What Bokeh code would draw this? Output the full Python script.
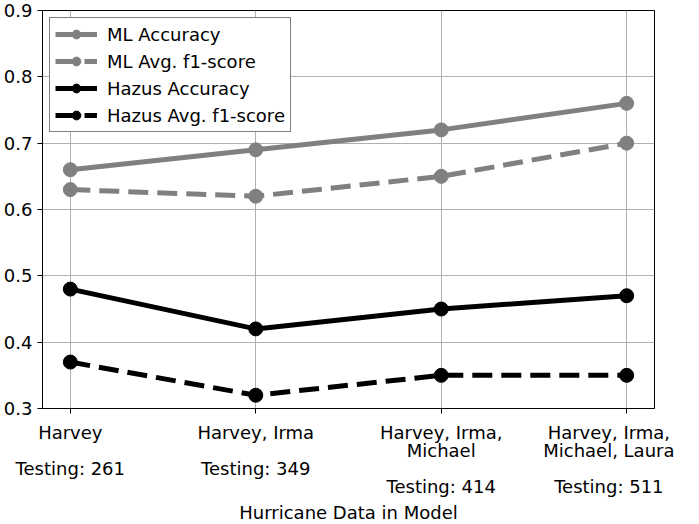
from bokeh.plotting import figure
from bokeh.models import FixedTicker, Range1d
from bokeh.embed import file_html
from bokeh.resources import INLINE

categories = ["Harvey\n\nTesting: 261",
              "Harvey, Irma\n\nTesting: 349",
              "Harvey, Irma,\nMichael\n\nTesting: 414",
              "Harvey, Irma,\nMichael, Laura\n\nTesting: 511"]
x_pos = [0, 1, 2, 3]
ml_accuracy = [0.66, 0.69, 0.72, 0.76]
ml_f1 = [0.63, 0.62, 0.65, 0.70]
hazus_accuracy = [0.48, 0.42, 0.45, 0.47]
hazus_f1 = [0.37, 0.32, 0.35, 0.35]
y_ticks = [0.3, 0.4, 0.5, 0.6, 0.7, 0.8, 0.9]

FONT = "DejaVu Sans"
GRAY = "#808080"

p = figure(frame_width=612, frame_height=398, output_backend="svg",
           toolbar_location=None, x_range=Range1d(-0.15, 3.15),
           y_range=Range1d(0.3, 0.9),
           min_border_left=40, min_border_top=10, min_border_right=20,
           min_border_bottom=3)

series = [
    (ml_accuracy, GRAY, "solid", "ML Accuracy"),
    (ml_f1, GRAY, "20 9", "ML Avg. f1-score"),
    (hazus_accuracy, "black", "solid", "Hazus Accuracy"),
    (hazus_f1, "black", "20 9", "Hazus Avg. f1-score"),
]
for ys, col, dash, lab in series:
    p.line(x_pos, ys, line_color=col, line_width=5, line_dash=dash, legend_label=lab)
    p.scatter(x_pos, ys, size=14, fill_color=col, line_color=col, legend_label=lab)

p.xaxis.ticker = FixedTicker(ticks=x_pos)
p.xaxis.major_label_overrides = {i: c for i, c in zip(x_pos, categories)}
p.yaxis.ticker = FixedTicker(ticks=y_ticks)
p.xaxis.axis_label = "Hurricane Data in Model"

for ax in [p.xaxis[0], p.yaxis[0]]:
    ax.major_label_text_font = FONT
    ax.major_label_text_font_size = "18px"
    ax.major_label_text_color = "black"
    ax.major_label_text_line_height = 0.87
    ax.axis_label_text_font = FONT
    ax.axis_label_text_font_size = "18px"
    ax.axis_label_text_font_style = "normal"
    ax.axis_label_text_color = "black"
    ax.major_tick_out = 5
    ax.major_tick_in = 0
    ax.minor_tick_out = 0
    ax.minor_tick_in = 0
    ax.axis_line_color = "black"
    ax.major_tick_line_color = "black"
    ax.major_label_standoff = 5
p.xaxis.major_label_standoff = 8
p.xaxis.axis_label_standoff = 2

p.grid.grid_line_color = "#b0b0b0"
p.grid.grid_line_width = 1
p.outline_line_color = "black"
p.outline_line_width = 1
p.background_fill_color = "white"
p.border_fill_color = "white"

lg = p.legend[0]
lg.location = "top_left"
lg.margin = 7
lg.label_text_font = FONT
lg.label_text_font_size = "18px"
lg.label_text_color = "black"
lg.glyph_width = 42
lg.glyph_height = 22
lg.spacing = 5
lg.padding = 5
lg.label_standoff = 10
lg.border_line_color = "black"
lg.border_line_width = 1.5
lg.background_fill_alpha = 1.0

open("out.html", "w").write(file_html(p, INLINE))
